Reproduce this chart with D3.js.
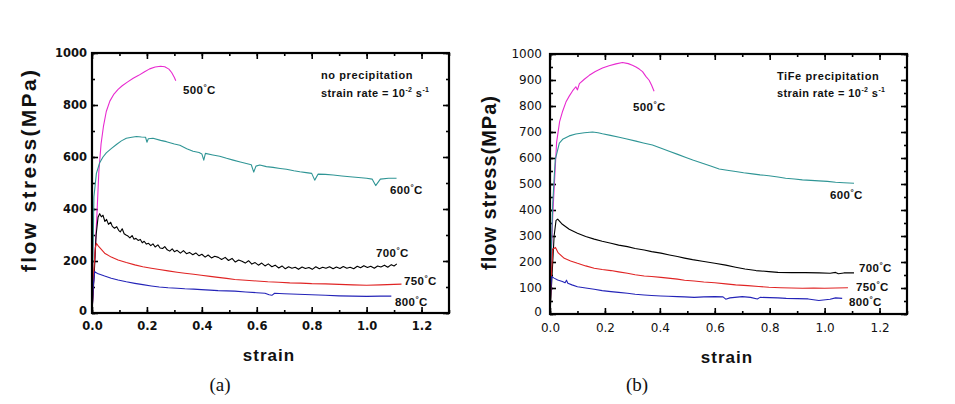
<!DOCTYPE html>
<html><head><meta charset="utf-8">
<script src="https://cdn.jsdelivr.net/npm/d3@7"></script>
<style>body{margin:0;background:#fff}svg{display:block}</style>
</head><body>
<svg id="c" width="955" height="404"></svg>
<script>
// ---------- DATA ----------
const temps = ["500", "600", "700", "750", "800"];
const colors = ["#e82ad0", "#2f9595", "#000000", "#e02424", "#2424b8"];
const xTicks = [0, 0.2, 0.4, 0.6, 0.8, 1.0, 1.2];
const yTicksA = [0, 200, 400, 600, 800, 1000];
const yTicksB = [0, 100, 200, 300, 400, 500, 600, 700, 800, 900, 1000];

// panel (a): no precipitation  [strain, stress MPa]
const a500 = [[0,0],[0.005,100],[0.012,250],[0.018,380],[0.025,545],[0.033,650],[0.042,720],[0.052,775],[0.065,815],[0.08,842],[0.095,860],[0.11,874],[0.13,889],[0.15,903],[0.17,914],[0.19,927],[0.21,939],[0.23,946],[0.25,949],[0.265,947],[0.28,938],[0.29,925],[0.30,906],[0.305,893]];
const a600 = [[0,0],[0.004,250],[0.007,447],[0.016,537],[0.028,578],[0.04,600],[0.052,616],[0.07,632],[0.089,648],[0.107,662],[0.125,672],[0.145,676],[0.162,679],[0.18,677],[0.195,676],[0.2,657],[0.205,670],[0.222,672],[0.25,664],[0.271,659],[0.3,650],[0.32,645],[0.345,632],[0.368,622],[0.39,617],[0.40,612],[0.407,588],[0.413,614],[0.44,608],[0.465,603],[0.49,595],[0.514,588],[0.54,581],[0.562,575],[0.58,570],[0.589,542],[0.597,565],[0.611,569],[0.635,563],[0.659,560],[0.685,556],[0.708,553],[0.735,547],[0.757,543],[0.78,540],[0.80,537],[0.811,511],[0.823,534],[0.85,533],[0.878,531],[0.91,527],[0.939,524],[0.97,521],[1.0,518],[1.02,515],[1.033,490],[1.05,515],[1.08,518],[1.109,518]];
const a700 = [[0,0],[0.008,150],[0.015,300],[0.022,368],[0.028,382],[0.034,370],[0.04,376],[0.047,352],[0.053,360],[0.06,341],[0.068,349],[0.074,333],[0.082,326],[0.09,332],[0.097,318],[0.103,312],[0.11,324],[0.117,305],[0.124,300],[0.131,296],[0.138,289],[0.146,298],[0.153,284],[0.16,287],[0.168,279],[0.176,283],[0.183,270],[0.19,276],[0.198,265],[0.206,268],[0.214,259],[0.222,266],[0.23,254],[0.24,262],[0.248,250],[0.257,248],[0.265,255],[0.274,243],[0.283,238],[0.292,247],[0.3,236],[0.31,241],[0.322,230],[0.333,240],[0.344,228],[0.355,233],[0.367,224],[0.378,231],[0.39,220],[0.4,226],[0.412,215],[0.423,223],[0.435,212],[0.447,218],[0.46,214],[0.472,206],[0.485,214],[0.497,202],[0.51,210],[0.522,196],[0.534,204],[0.546,199],[0.558,192],[0.57,201],[0.582,188],[0.594,194],[0.606,184],[0.618,192],[0.63,181],[0.642,189],[0.655,178],[0.667,184],[0.68,173],[0.692,181],[0.704,170],[0.716,178],[0.728,172],[0.74,176],[0.752,168],[0.765,177],[0.777,171],[0.79,175],[0.802,168],[0.815,178],[0.828,170],[0.84,176],[0.852,172],[0.865,178],[0.878,170],[0.89,177],[0.903,171],[0.915,179],[0.928,172],[0.94,176],[0.953,170],[0.966,180],[0.978,174],[0.99,182],[1.003,175],[1.015,180],[1.028,172],[1.04,181],[1.052,177],[1.065,184],[1.077,176],[1.09,186],[1.1,181],[1.11,189]];
const a750 = [[0,0],[0.006,150],[0.012,250],[0.016,268],[0.025,255],[0.046,230],[0.07,215],[0.095,204],[0.125,194],[0.156,185],[0.185,178],[0.216,172],[0.245,167],[0.277,162],[0.31,157],[0.338,153],[0.37,149],[0.398,145],[0.43,141],[0.459,137],[0.49,133],[0.52,129],[0.56,126],[0.6,123],[0.64,120],[0.68,118],[0.72,116],[0.76,115],[0.8,113],[0.85,112],[0.9,110],[0.95,108],[1.0,107],[1.05,108],[1.1,110],[1.127,111]];
const a800 = [[0,0],[0.005,110],[0.01,159],[0.02,152],[0.046,142],[0.07,134],[0.095,127],[0.125,120],[0.156,114],[0.185,109],[0.216,104],[0.245,100],[0.277,97],[0.31,95],[0.338,93],[0.37,92],[0.398,90],[0.43,88],[0.459,86],[0.49,85],[0.52,84],[0.56,81],[0.6,78],[0.63,76],[0.645,70],[0.655,68],[0.665,76],[0.7,74],[0.75,72],[0.8,70],[0.85,68],[0.9,66],[0.95,65],[1.0,64],[1.05,65],[1.09,65]];

// panel (b): TiFe precipitation
const b500 = [[0,0],[0.004,195],[0.01,380],[0.016,500],[0.024,660],[0.035,740],[0.046,780],[0.058,815],[0.07,838],[0.082,858],[0.094,874],[0.1,862],[0.107,886],[0.125,903],[0.143,918],[0.165,933],[0.191,946],[0.215,955],[0.24,962],[0.264,967],[0.285,963],[0.3,957],[0.313,950],[0.325,942],[0.337,932],[0.349,914],[0.361,899],[0.37,880],[0.379,857]];
const b600 = [[0,0],[0.005,250],[0.01,426],[0.019,593],[0.034,657],[0.046,672],[0.07,685],[0.094,692],[0.125,697],[0.155,700],[0.175,697],[0.191,693],[0.22,687],[0.252,680],[0.28,673],[0.313,665],[0.34,658],[0.373,650],[0.40,639],[0.434,626],[0.465,614],[0.495,602],[0.52,592],[0.555,580],[0.585,569],[0.616,558],[0.645,553],[0.676,548],[0.705,543],[0.737,539],[0.765,535],[0.797,532],[0.83,527],[0.858,522],[0.89,519],[0.919,516],[0.95,514],[0.979,512],[1.01,510],[1.04,507],[1.07,505],[1.107,503]];
const b700 = [[0,0],[0.008,160],[0.015,300],[0.022,360],[0.028,365],[0.045,345],[0.07,326],[0.1,311],[0.13,298],[0.161,288],[0.19,280],[0.222,272],[0.25,265],[0.282,259],[0.31,252],[0.343,246],[0.37,240],[0.404,234],[0.435,227],[0.464,221],[0.49,215],[0.519,209],[0.555,203],[0.6,195],[0.64,188],[0.676,180],[0.71,173],[0.75,167],[0.797,163],[0.83,160],[0.88,159],[0.93,159],[0.98,158],[1.02,157],[1.04,160],[1.05,155],[1.07,158],[1.107,158]];
const b750 = [[0,0],[0.005,150],[0.01,249],[0.02,256],[0.03,235],[0.052,214],[0.075,204],[0.1,195],[0.13,185],[0.161,176],[0.19,171],[0.222,167],[0.25,162],[0.282,157],[0.31,151],[0.343,146],[0.37,144],[0.404,141],[0.43,138],[0.464,134],[0.49,130],[0.525,127],[0.56,123],[0.6,120],[0.64,116],[0.676,112],[0.72,109],[0.76,106],[0.797,103],[0.84,101],[0.88,100],[0.919,99],[0.96,100],[1.0,99],[1.04,100],[1.085,101]];
const b800 = [[0,0],[0.003,100],[0.006,144],[0.015,138],[0.028,131],[0.045,125],[0.055,120],[0.06,130],[0.065,118],[0.08,112],[0.1,105],[0.13,100],[0.161,95],[0.19,90],[0.222,86],[0.25,83],[0.282,80],[0.31,76],[0.343,73],[0.37,71],[0.404,69],[0.43,68],[0.464,67],[0.49,66],[0.525,64],[0.56,66],[0.6,67],[0.63,66],[0.64,57],[0.655,62],[0.7,67],[0.73,64],[0.755,58],[0.765,64],[0.8,63],[0.83,62],[0.86,60],[0.9,59],[0.94,58],[0.979,52],[0.995,54],[1.02,57],[1.04,62],[1.064,60]];

const seriesA = [a500, a600, a700, a750, a800];
const seriesB = [b500, b600, b700, b750, b800];

const panels = [
  {series: seriesA, xr:[92,449], yr:[313,53], yTicks: yTicksA, yStep:200,
   tickBold:true, tickFont:11.5, ytPad:5, labelPos:[[183,94],[390,194],[376,257],[404,285],[395,306]],
   annX:321, annY:[79,97], ylab:[29,171], yfs:21, ylen:202, xlab:[269,355], tag:"(a)", tagPos:[220,391], tagName:"no precipitation"},
  {series: seriesB, xr:[550,907], yr:[314,54], yTicks: yTicksB, yStep:100,
   tickBold:false, tickFont:12, ytPad:8, labelPos:[[633,111],[830,199],[859,272],[856,291],[849,306]],
   annX:777, annY:[80,97], ylab:[489,183], yfs:20, ylen:174, xlab:[727,357], tag:"(b)", tagPos:[637,391], tagName:"TiFe precipitation"}
];

// ---------- DRAW ----------
const svg = d3.select("#c");
const SANS = "'Liberation Sans', Arial, sans-serif";

panels.forEach(p => {
  const x = d3.scaleLinear([0, 1.3], p.xr);
  const y = d3.scaleLinear([0, 1000], p.yr);
  const g = svg.append("g");
  const [x0, x1] = p.xr, [y0, y1] = p.yr;

  const minorX = d3.range(0, 1.31, 0.1);
  const minorY = d3.range(0, 1001, p.yStep / 2);

  function styleAxis(sel) {
    sel.select(".domain").remove();
    sel.selectAll(".tick line").attr("stroke", "#000").attr("stroke-width", 1.6);
  }
  // bottom
  g.append("g").attr("transform", `translate(0,${y0})`)
    .call(d3.axisBottom(x).tickValues(minorX).tickSize(-3).tickFormat("")).call(styleAxis);
  const bx = g.append("g").attr("transform", `translate(0,${y0})`)
    .call(d3.axisBottom(x).tickValues(xTicks).tickSize(-6).tickPadding(9).tickFormat(d3.format(".1f"))).call(styleAxis);
  // top
  g.append("g").attr("transform", `translate(0,${y1})`)
    .call(d3.axisTop(x).tickValues(minorX).tickSize(-3).tickFormat("")).call(styleAxis);
  g.append("g").attr("transform", `translate(0,${y1})`)
    .call(d3.axisTop(x).tickValues(xTicks).tickSize(-6).tickFormat("")).call(styleAxis);
  // left
  g.append("g").attr("transform", `translate(${x0},0)`)
    .call(d3.axisLeft(y).tickValues(minorY).tickSize(-3).tickFormat("")).call(styleAxis);
  const ly = g.append("g").attr("transform", `translate(${x0},0)`)
    .call(d3.axisLeft(y).tickValues(p.yTicks).tickSize(-6).tickPadding(p.ytPad).tickFormat(d3.format("d"))).call(styleAxis);
  // right
  g.append("g").attr("transform", `translate(${x1},0)`)
    .call(d3.axisRight(y).tickValues(minorY).tickSize(-3).tickFormat("")).call(styleAxis);
  g.append("g").attr("transform", `translate(${x1},0)`)
    .call(d3.axisRight(y).tickValues(p.yTicks).tickSize(-6).tickFormat("")).call(styleAxis);

  [bx, ly].forEach(a => a.selectAll(".tick text")
    .attr("font-family", "'DejaVu Sans', Verdana, sans-serif")
    .attr("font-size", p.tickFont)
    .attr("font-weight", p.tickBold ? "bold" : "normal")
    .attr("fill", "#111"));
  // nudge the "0" y label up slightly so it clears "0.0"
  ly.selectAll(".tick text").filter(d => d === 0).attr("dy", "0.1em");

  // curves
  const line = d3.line().x(d => x(d[0])).y(d => y(d[1]));
  p.series.forEach((s, i) => {
    g.append("path").datum(s).attr("d", line)
      .attr("fill", "none").attr("stroke", colors[i]).attr("stroke-width", 1.1)
      .attr("stroke-linejoin", "round");
  });

  // frame
  g.append("rect").attr("x", x0).attr("y", y1).attr("width", x1 - x0).attr("height", y0 - y1)
    .attr("fill", "none").attr("stroke", "#000").attr("stroke-width", 2.2);

  // curve labels
  temps.forEach((t, i) => {
    const tx = g.append("text").attr("x", p.labelPos[i][0]).attr("y", p.labelPos[i][1])
      .attr("font-family", SANS).attr("font-weight", "bold").attr("font-size", 11.5)
      .attr("letter-spacing", 0.4).attr("fill", "#111");
    tx.append("tspan").text(t);
    tx.append("tspan").attr("dy", -4).attr("font-size", 8).text("°");
    tx.append("tspan").attr("dy", 4).text("C");
  });

  // annotation
  g.append("text").attr("x", p.annX).attr("y", p.annY[0])
    .attr("font-family", SANS).attr("font-weight", "bold").attr("font-size", 11)
    .attr("letter-spacing", 0.6).attr("fill", "#111").text(p.tagName);
  const an = g.append("text").attr("x", p.annX).attr("y", p.annY[1])
    .attr("font-family", SANS).attr("font-weight", "bold").attr("font-size", 11)
    .attr("letter-spacing", 0.4).attr("fill", "#111");
  an.append("tspan").text("strain rate = 10");
  an.append("tspan").attr("dy", -5).attr("font-size", 7).text("-2");
  an.append("tspan").attr("dy", 5).text(" s");
  an.append("tspan").attr("dy", -5).attr("font-size", 7).text("-1");

  // axis titles
  g.append("text").attr("transform", `translate(${p.ylab[0]},${p.ylab[1]}) rotate(-90)`)
    .attr("text-anchor", "middle").attr("dy", "0.35em")
    .attr("font-family", SANS).attr("font-weight", "bold").attr("font-size", p.yfs)
    .attr("textLength", p.ylen).attr("lengthAdjust", "spacing").attr("fill", "#111")
    .text("flow stress(MPa)");
  g.append("text").attr("x", p.xlab[0]).attr("y", p.xlab[1]).attr("dy", "0.35em")
    .attr("text-anchor", "middle").attr("font-family", SANS).attr("font-weight", "bold")
    .attr("font-size", 17).attr("letter-spacing", 1).attr("fill", "#111").text("strain");
  g.append("text").attr("x", p.tagPos[0]).attr("y", p.tagPos[1])
    .attr("text-anchor", "middle").attr("font-family", "'Liberation Serif', 'Times New Roman', serif")
    .attr("font-size", 19).attr("fill", "#111").text(p.tag);
});
</script>
</body></html>
